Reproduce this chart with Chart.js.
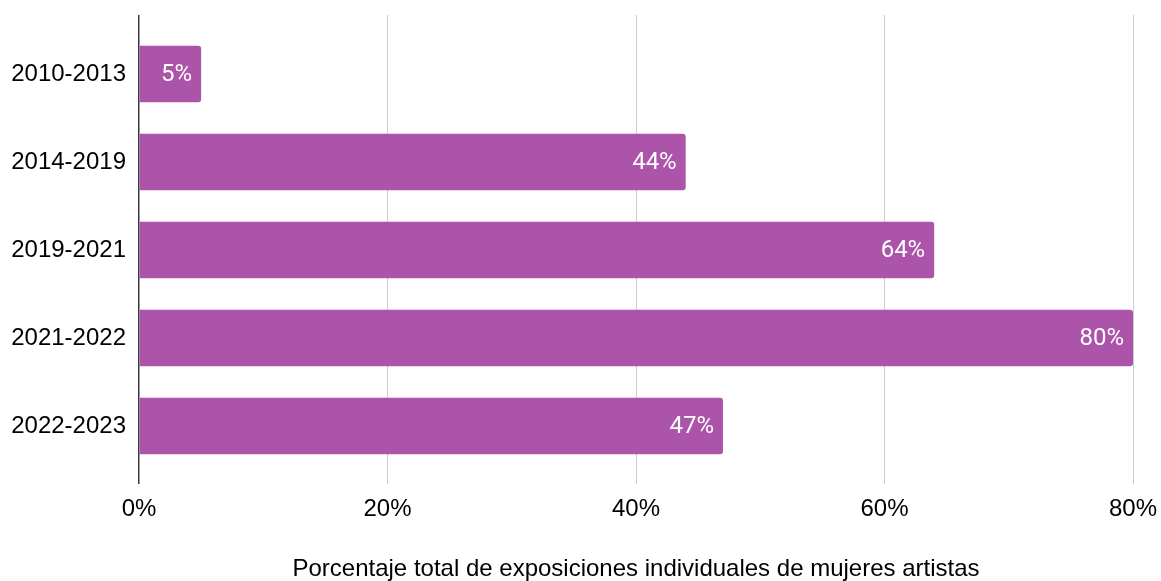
<!DOCTYPE html>
<html lang="es">
<head>
<meta charset="utf-8">
<title>Exposiciones individuales de mujeres artistas</title>
<script src="https://cdn.jsdelivr.net/npm/chart.js@4"></script>
<style>
  html, body { margin: 0; padding: 0; background: #fff; }
  #wrap { width: 1161px; height: 581px; position: relative; }
</style>
</head>
<body>
<div id="wrap"><canvas id="womenChart"></canvas></div>
<script>
// ── Data ──
const periods = ['2010-2013', '2014-2019', '2019-2021', '2021-2022', '2022-2023'];
const shares = [5, 44, 64, 80, 47];
const xTicks = [0, 20, 40, 60, 80];
const axisTitle = 'Porcentaje total de exposiciones individuales de mujeres artistas';

// ── Value labels inside the bar ends ──
const barLabels = {
  id: 'barLabels',
  afterDatasetsDraw(chart) {
    const { ctx } = chart;
    const meta = chart.getDatasetMeta(0);
    ctx.save();
    ctx.fillStyle = '#fff';
    ctx.font = '24px Roboto, "Liberation Sans", Arial, sans-serif';
    ctx.textAlign = 'right';
    ctx.textBaseline = 'middle';
    meta.data.forEach((bar, i) => {
      ctx.fillText(shares[i] + '%', bar.x - 9, bar.y + 1);
    });
    ctx.restore();
  }
};

const gridColor = (c) => (c.tick && c.tick.value === 0 ? '#3a3a3a' : '#ccc');
const gridWidth = (c) => (c.tick && c.tick.value === 0 ? 1.5 : 1);

function initChart() {
  const ctx = document.getElementById('womenChart');

  new Chart(ctx, {
    type: 'bar',
    data: {
      labels: periods,
      datasets: [{
        data: shares,
        backgroundColor: '#ab54a9',
        borderRadius: 3,
        borderSkipped: 'start',
        categoryPercentage: 1,
        barPercentage: 0.64
      }]
    },
    plugins: [barLabels],
    options: {
      indexAxis: 'y',
      responsive: true,
      maintainAspectRatio: false,
      animation: false,
      layout: { padding: { top: 15, right: 28, bottom: 0, left: 0 } },
      plugins: {
        legend: { display: false },
        tooltip: { enabled: false }
      },
      scales: {
        x: {
          position: 'bottom',
          min: 0,
          max: 80,
          afterBuildTicks: (s) => { s.ticks = xTicks.map(v => ({ value: v })); },
          afterFit: (s) => { s.height = 111; s.paddingLeft = 0; s.paddingRight = 0; },
          border: { display: false },
          grid: { color: gridColor, lineWidth: gridWidth, tickLength: 14 },
          ticks: {
            padding: 11,
            color: '#000',
            font: { family: '"Liberation Sans", Arial, sans-serif', size: 24 },
            callback: (v) => v + '%'
          },
          title: {
            display: true,
            text: axisTitle,
            color: '#000',
            padding: { top: 0, bottom: -3 },
            font: { family: '"Liberation Sans", Arial, sans-serif', size: 24 }
          }
        },
        xTop: {
          position: 'top',
          axis: 'x',
          min: 0,
          max: 80,
          afterBuildTicks: (s) => { s.ticks = xTicks.map(v => ({ value: v })); },
          afterFit: (s) => { s.height = 15; s.paddingLeft = 0; s.paddingRight = 0; },
          border: { display: false },
          grid: { color: gridColor, lineWidth: gridWidth, tickLength: 15, drawOnChartArea: false },
          ticks: { display: false }
        },
        y: {
          afterFit: (s) => { s.width = 139; },
          border: { display: false },
          grid: { display: false },
          ticks: {
            padding: 5,
            color: '#000',
            font: { family: '"Liberation Sans", Arial, sans-serif', size: 24 }
          }
        }
      }
    }
  });
}

document.addEventListener('DOMContentLoaded', initChart);
</script>
</body>
</html>
